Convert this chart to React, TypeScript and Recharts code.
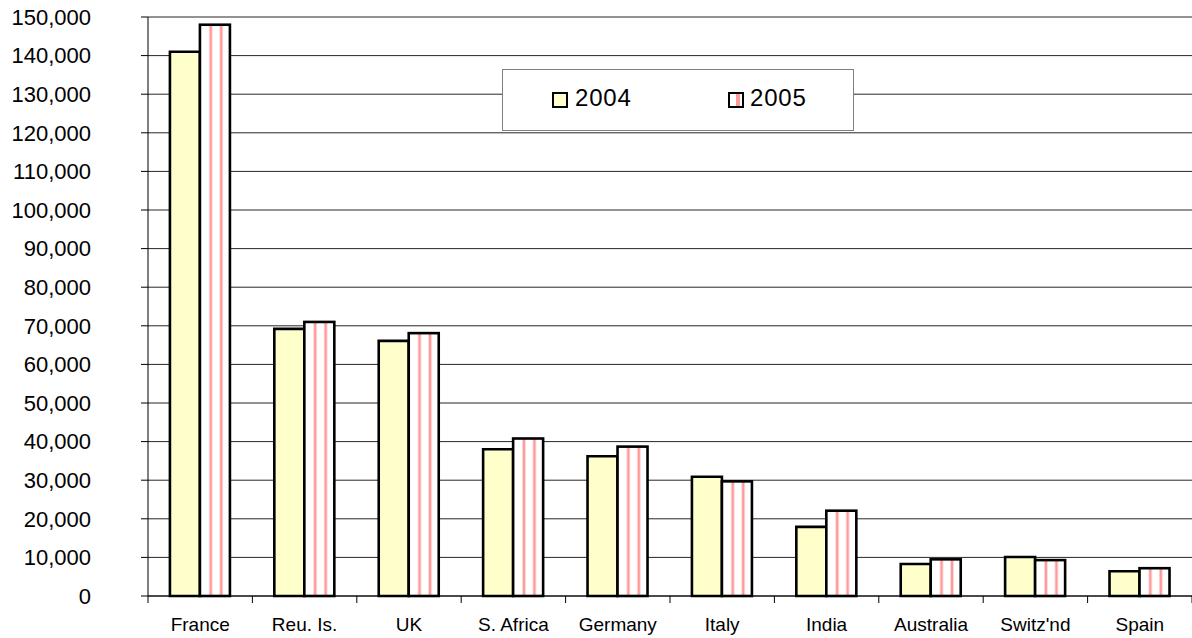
import React from 'react';
import { BarChart, Bar, XAxis, YAxis, CartesianGrid, Legend } from 'recharts';

const countries = ['France', 'Reu. Is.', 'UK', 'S. Africa', 'Germany', 'Italy', 'India', 'Australia', "Switz'nd", 'Spain'];
const values2004 = [141000, 69200, 66100, 38000, 36200, 30900, 17900, 8300, 10100, 6400];
const values2005 = [148000, 71000, 68100, 40800, 38700, 29700, 22100, 9500, 9300, 7200];
const yTicks = [0, 10000, 20000, 30000, 40000, 50000, 60000, 70000, 80000, 90000, 100000, 110000, 120000, 130000, 140000, 150000];

const data = countries.map((c, i) => ({ name: c, y2004: values2004[i], y2005: values2005[i] }));

const FONT = '"Liberation Sans", Arial, sans-serif';
const W = 1192;
const H = 638;
const AXIS_W = 148;
const BAND = (W - AXIS_W) / countries.length;

// x ticks sit on the category boundaries, labels in the middle
const XTick = (props: any) => {
  const { x, y, payload, index } = props;
  const left = x - BAND / 2;
  return (
    <g>
      <line x1={left} x2={left} y1={y} y2={y + 7} stroke="#000" />
      {index === countries.length - 1 && (
        <line x1={x + BAND / 2} x2={x + BAND / 2} y1={y} y2={y + 7} stroke="#000" />
      )}
      <text x={x} y={y + 35} textAnchor="middle" fontSize={19} fontFamily={FONT} fill="#000">
        {payload.value}
      </text>
    </g>
  );
};

const StripedBar = (props: any) => {
  const { x, y, width, height } = props;
  if (!height) return null;
  return (
    <g>
      <rect x={x} y={y} width={width} height={height} fill="#fff" />
      {[0.36, 0.71].map((f) => (
        <g key={f}>
          <rect x={x + width * f - 2} y={y} width={4} height={height} fill="#FFD9D9" />
          <rect x={x + width * f - 1} y={y} width={2} height={height} fill="#FF9A9A" />
        </g>
      ))}
      <rect x={x} y={y} width={width} height={height} fill="none" stroke="#000" strokeWidth={2.6} />
    </g>
  );
};

const LegendBox = () => (
  <div
    style={{
      width: 350,
      height: 60,
      border: '1px solid #808080',
      background: '#fff',
      position: 'relative',
      fontFamily: FONT,
      fontSize: 24,
      letterSpacing: 0.8,
      color: '#000',
    }}
  >
    <div style={{ position: 'absolute', left: 49, top: 22, width: 12, height: 12, border: '2px solid #000', background: '#FFFFCC' }} />
    <span style={{ position: 'absolute', left: 72, top: 14, lineHeight: '28px' }}>2004</span>
    <div style={{ position: 'absolute', left: 225, top: 22, width: 12, height: 12, border: '2px solid #000', background: '#fff', overflow: 'hidden' }}>
      <div style={{ position: 'absolute', left: 6, top: 0, width: 4, height: 12, background: '#FF9A9A' }} />
    </div>
    <span style={{ position: 'absolute', left: 247, top: 14, lineHeight: '28px' }}>2005</span>
  </div>
);

export default function App() {
  return (
    <div style={{ position: 'absolute', left: 0, top: 0, width: W, height: H, background: '#fff' }}>
      <BarChart
        width={W}
        height={H}
        data={data}
        margin={{ top: 17, right: 0, bottom: 0, left: 0 }}
        barCategoryGap="21%"
        barGap={0}
      >
        <CartesianGrid horizontal vertical={false} stroke="#000" strokeOpacity={0.85} />
        <XAxis
          dataKey="name"
          height={42}
          interval={0}
          tick={<XTick />}
          tickLine={false}
          tickSize={0}
          tickMargin={0}
          axisLine={{ stroke: '#000' }}
        />
        <YAxis
          width={AXIS_W}
          domain={[0, 150000]}
          ticks={yTicks}
          interval={0}
          tickFormatter={(v: number) => v.toLocaleString('en-US')}
          tick={{ fill: '#000', fontSize: 22, fontFamily: FONT }}
          tickSize={7}
          tickMargin={50}
          tickLine={{ stroke: '#000' }}
          axisLine={{ stroke: '#000' }}
        />
        <Legend
          layout="horizontal"
          verticalAlign="middle"
          align="center"
          content={<LegendBox />}
          wrapperStyle={{ position: 'absolute', left: 502, top: 69, width: 352, height: 62 }}
        />
        <Bar dataKey="y2004" name="2004" fill="#FFFFCC" stroke="#000" strokeWidth={2.6} isAnimationActive={false} />
        <Bar dataKey="y2005" name="2005" shape={<StripedBar />} isAnimationActive={false} />
      </BarChart>
    </div>
  );
}
